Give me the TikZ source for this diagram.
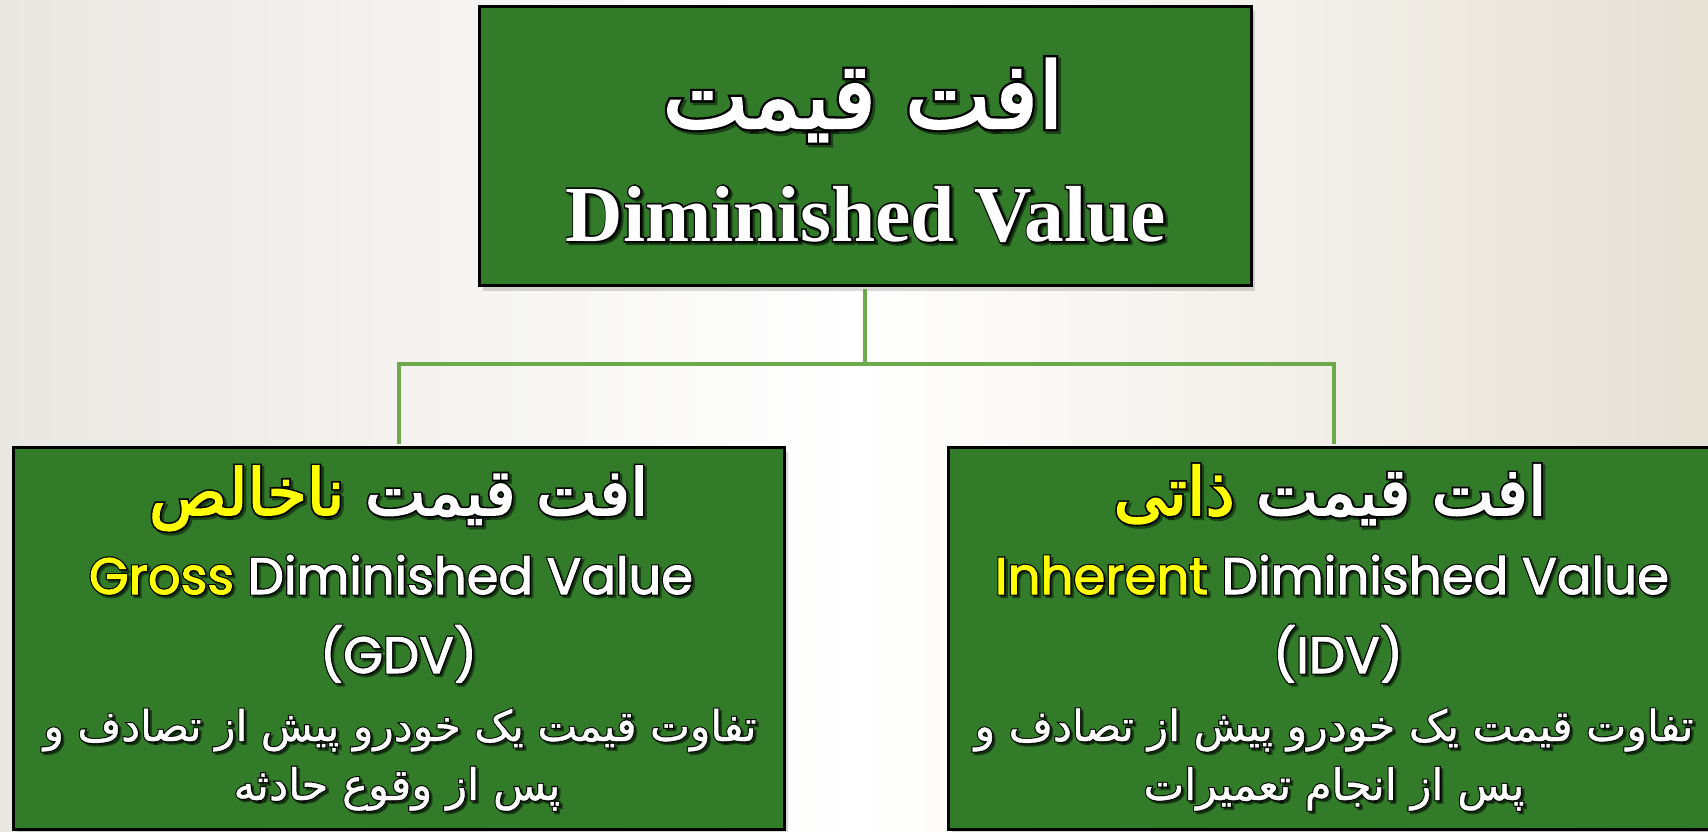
\documentclass[tikz,border=0pt]{standalone}
\usepackage{fontspec}
\usepackage{graphicx}
\usetikzlibrary{shadows}
\TeXXeTstate=1
% main faces (slightly emboldened) and outline faces (more emboldened, drawn black underneath)
\newfontfamily\faH[Script=Arabic,FakeBold=2.6]{DejaVu Sans}
\newfontfamily\faHo[Script=Arabic,FakeBold=7.6]{DejaVu Sans}
\newfontfamily\faD[Script=Arabic,FakeBold=1]{DejaVu Sans}
\newfontfamily\faDo[Script=Arabic,FakeBold=6]{DejaVu Sans}
\newfontfamily\latM[FakeBold=2]{Poppins}
\newfontfamily\latMo[FakeBold=6.5]{Poppins}
\newfontfamily\serM{Liberation Serif}
\newfontfamily\serMo[BoldFeatures={FakeBold=4}]{Liberation Serif}
\definecolor{boxgreen}{RGB}{49,123,41}
\definecolor{linkgreen}{RGB}{108,170,76}
\definecolor{hlyellow}{RGB}{255,255,0}
\definecolor{bgleft}{RGB}{233,231,226}
\definecolor{bgright}{RGB}{230,225,213}
\newcommand\fH{\faH}
\newcommand\fD{\faD}
\newcommand\fL{\latM}
\newcommand\fS{\serM}
\newcommand\rtl[1]{\beginR#1\endR}
\def\hlc{hlyellow}
\newcommand\hl[1]{\textcolor{\hlc}{#1}}
\newcommand\outlinefonts{\def\hlc{black}\let\fH\faHo\let\fD\faDo\let\fL\latMo\let\fS\serMo\color{black}}
\newcommand\ptext[4]{%
  \node[shtxt] (#1s) at (#2,#3) {\outlinefonts#4};
  \node[txt] (#1o) at (#2,#3) {\outlinefonts#4};
  \node[txt] (#1) at (#2,#3) {#4};}
\tikzset{
  txt/.style={anchor=base, inner sep=0pt, text=white},
  shtxt/.style={txt, text=black, xshift=2.5pt, yshift=-2.5pt, opacity=0.45},
  box/.style={draw=black, line width=3pt, fill=boxgreen, inner sep=0pt,
    drop shadow={shadow xshift=4pt, shadow yshift=-5pt, opacity=0.3}},
  link/.style={draw=linkgreen, line width=4pt, shorten <=1.5pt, shorten >=1.5pt}
}
\begin{document}
\begin{tikzpicture}[x=1pt,y=-1pt]
\useasboundingbox (0,0) rectangle (1708,832);
\shade[left color=bgleft, right color=bgright, middle color=white] (0,0) rectangle (1708,832);
\coordinate (fork) at (865,364);
\node[box, minimum width=772pt, minimum height=279pt] (top) at (865,146) {};
\node[box, minimum width=771pt, minimum height=382.5pt] (gross) at (398.5,638.25) {};
\node[box, minimum width=771pt, minimum height=382.5pt] (inh) at (1333.5,638.25) {};
\draw[link] (top.south) -- (fork) -| (gross.north);
\draw[link] (fork) -| (inh.north);
% top box
\ptext{tfa}{863}{128}{\resizebox{401pt}{!}{\fontsize{80}{90}\selectfont\fH\rtl{افت قیمت}}}
\ptext{ten}{866}{241}{\resizebox{600pt}{!}{\fontsize{77}{90}\selectfont\fS\bfseries Diminished Value}}
% left box
\ptext{gfa}{398.5}{515}{\resizebox{499pt}{!}{\fontsize{50}{60}\selectfont\fH\hl{\rtl{ناخالص}} \rtl{افت قیمت}}}
\ptext{gen}{391}{594}{\resizebox{604pt}{!}{\fontsize{56}{66}\selectfont\fL\hl{Gross} Diminished Value}}
\ptext{gab}{398.5}{673}{\resizebox{157pt}{!}{\fontsize{56}{66}\selectfont\fL(GDV)}}
\ptext{gd1}{400}{741}{\resizebox{713pt}{!}{\fontsize{45}{54}\selectfont\fD\rtl{تفاوت قیمت یک خودرو پیش از تصادف و}}}
\ptext{gd2}{397}{800}{\resizebox{327pt}{!}{\fontsize{45}{54}\selectfont\fD\rtl{پس از وقوع حادثه}}}
% right box
\ptext{ifa}{1330}{515}{\resizebox{433pt}{!}{\fontsize{50}{60}\selectfont\fH\hl{\rtl{ذاتی}} \rtl{افت قیمت}}}
\ptext{ien}{1332}{594}{\resizebox{674pt}{!}{\fontsize{56}{66}\selectfont\fL\hl{Inherent} Diminished Value}}
\ptext{iab}{1338}{673}{\resizebox{130pt}{!}{\fontsize{56}{66}\selectfont\fL(IDV)}}
\ptext{id1}{1334}{741}{\resizebox{719pt}{!}{\fontsize{45}{54}\selectfont\fD\rtl{تفاوت قیمت یک خودرو پیش از تصادف و}}}
\ptext{id2}{1334}{800}{\resizebox{381pt}{!}{\fontsize{45}{54}\selectfont\fD\rtl{پس از انجام تعمیرات}}}
\end{tikzpicture}
\end{document}
